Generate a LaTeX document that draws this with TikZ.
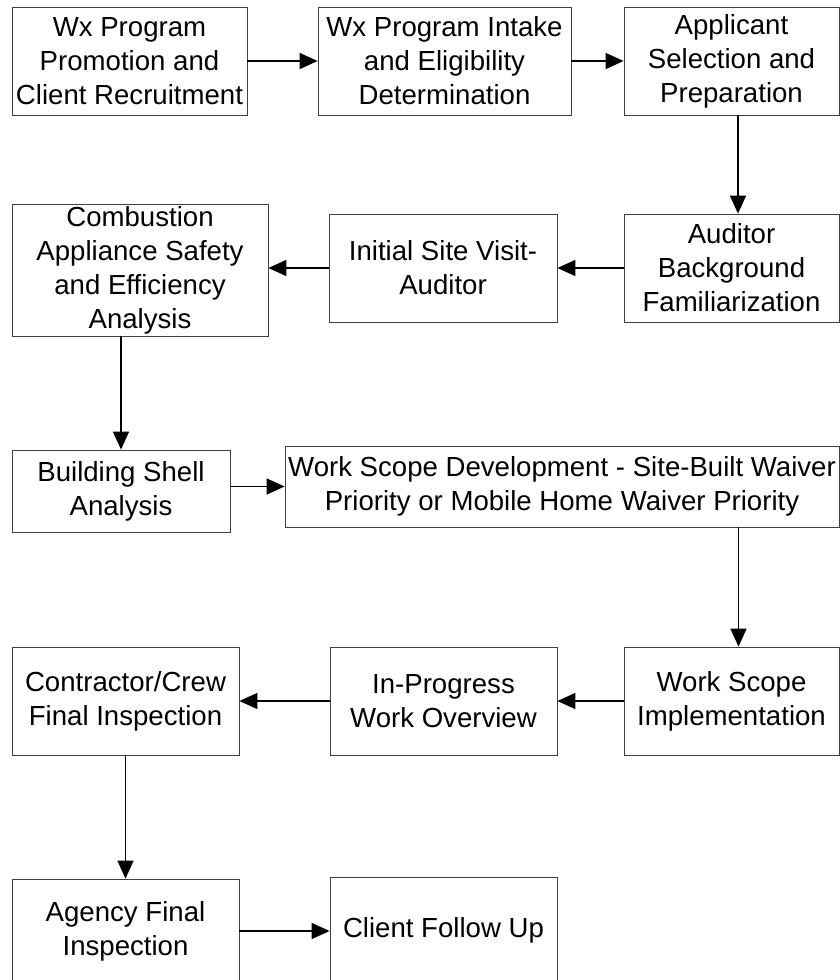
\documentclass[tikz,border=0pt]{standalone}
\usepackage{xcolor}
\usepackage{fontspec}
\setmainfont{Liberation Sans}
\usepackage{tikz}
\usetikzlibrary{arrows.meta}

\tikzset{
    stepbox/.style={draw=black!75, line width=0.8pt, align=center, inner sep=2pt,
        font=\fontsize{27.6}{34}\selectfont},
    flow/.style={line width=1.5pt, -{Triangle[length=18pt, width=16pt]}}
}

\begin{document}
\begin{tikzpicture}[x=1pt, y=-1pt]
        % Fix the page to the size of the reference
        \useasboundingbox (0,0) rectangle (840,980);

        % First row: intake
        \node[stepbox, minimum width=235pt, minimum height=108pt] (promo) at (129.5,61) {Wx Program\\Promotion and\\Client Recruitment};
        \node[stepbox, minimum width=253pt, minimum height=108pt] (intake) at (444.5,61) {Wx Program Intake\\and Eligibility\\Determination};
        \node[stepbox, minimum width=215pt, minimum height=108pt] (select) at (731.5,61) {Applicant\\Selection and\\Preparation};

        % Second row: audit
        \node[stepbox, minimum width=215pt, minimum height=108pt] (backgr) at (731.5,268) {Auditor\\Background\\Familiarization};
        \node[stepbox, minimum width=228pt, minimum height=108pt] (visit) at (443,268) {Initial Site Visit-\\Auditor};
        \node[stepbox, minimum width=256pt, minimum height=132pt] (combust) at (140,270) {Combustion\\Appliance Safety\\and Efficiency\\Analysis};

        % Third row: analysis and work scope
        \node[stepbox, minimum width=218pt, minimum height=82pt] (shell) at (121,491) {Building Shell\\Analysis};
        \node[stepbox, minimum width=554pt, minimum height=81pt] (scope) at (562,486.5) {Work Scope Development - Site-Built Waiver\\Priority or Mobile Home Waiver Priority};

        % Fourth row: the work
        \node[stepbox, minimum width=215pt, minimum height=108pt] (implem) at (731.5,701) {Work Scope\\Implementation};
        \node[stepbox, minimum width=227pt, minimum height=108pt] (progress) at (443.5,701) {In-Progress\\Work Overview};
        \node[stepbox, minimum width=227pt, minimum height=108pt] (crew) at (125.5,701) {Contractor/Crew\\Final Inspection};

        % Last row, cut off by the page edge
        \node[stepbox, minimum width=227pt, minimum height=104pt] (agency) at (125.5,931) {Agency Final\\Inspection};
        \node[stepbox, minimum width=227pt, minimum height=106pt] (follow) at (443.5,930) {Client Follow Up};

        % Connectors
        \draw[flow] (promo.east) -- (intake.west);
        \draw[flow] (intake.east) -- (select.west);
        \draw[flow] ([xshift=6.5pt]select.south) -- ([xshift=6.5pt]backgr.north);
        \draw[flow] (backgr.west) -- (visit.east);
        \draw[flow] (visit.west) -- (visit.west -| combust.east);
        \draw[flow] (shell.north |- combust.south) -- (shell.north);
        \draw[flow] (shell.east |- scope.west) -- (scope.west);
        \draw[flow] ([xshift=7pt]implem.north |- scope.south) -- ([xshift=7pt]implem.north);
        \draw[flow] (implem.west) -- (progress.east);
        \draw[flow] (progress.west) -- (crew.east);
        \draw[flow] (crew.south) -- (agency.north);
        \draw[flow] (agency.east) -- (agency.east -| follow.west);
    \end{tikzpicture}
\end{document}
